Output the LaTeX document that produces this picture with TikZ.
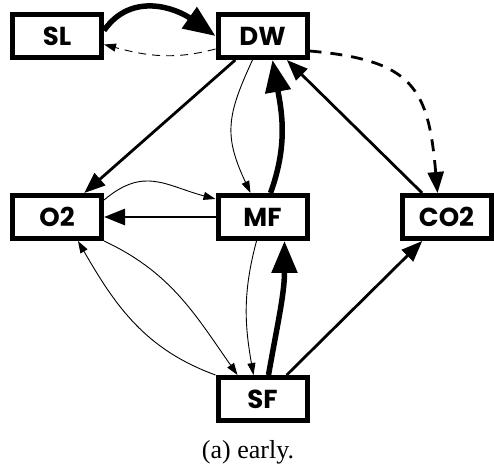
\documentclass[tikz,border=0pt]{standalone}
\usepackage{fontspec}
\setmainfont{Liberation Serif}
\newfontfamily\boxfont{Poppins}
\usetikzlibrary{arrows.meta,calc,positioning}

\begin{document}
\begin{tikzpicture}[x=1pt, y=1pt, line cap=butt, line join=miter,
		box/.style={draw, line width=5pt, minimum width=89pt, minimum height=43pt,
			inner sep=0pt, font=\boxfont\bfseries\fontsize{26}{28}\selectfont},
		thin/.style={line width=0.9pt, -{Triangle[length=12pt,width=8pt]}},
		mid/.style={line width=2.8pt, -{Triangle[length=21pt,width=16pt]}},
		heavy/.style={line width=5.5pt, -{Triangle[length=32pt,width=25pt]}}]
	
	% page frame
	\useasboundingbox (0,0) rectangle (494,465);
	
	% the six boxes
	\node[box] (sl)  at (57,428.5)  {SL};
	\node[box] (dw)  at (262.5,429) {DW};
	\node[box] (o2)  at (57,248)    {O2};
	\node[box] (mf)  at (262.5,248) {MF};
	\node[box] (co2) at (446.5,248) {CO2};
	\node[box] (sf)  at (262.5,66)  {SF};
	
	% top row
	\draw[heavy] ([yshift=6]sl.east) to[out=55, in=145, looseness=1.1] (dw.west);
	\draw[thin, dashed, dash pattern=on 8pt off 6pt]
	([yshift=-13]dw.west) to[out=195, in=345] ([yshift=-8]sl.east);
	\draw[mid, dash pattern=on 12pt off 9pt]
	([yshift=-15]dw.east) to[out=-5, in=95, looseness=1.4] ([xshift=-9]co2.north);
	
	% DW and the middle row
	\draw[mid] (dw) -- (o2);
	\draw[thin] ([xshift=-10]dw.south) to[out=-115, in=115, looseness=1.2] ([xshift=-12]mf.north);
	\draw[heavy] ([xshift=8]mf.north) to[out=70, in=-80] ([xshift=10]dw.south);
	\draw[mid] (co2) -- (dw);
	
	% O2 <-> MF
	\draw[thin] ([yshift=17]o2.east) to[out=40, in=165, looseness=1.2] ([yshift=18]mf.west);
	\draw[mid] (mf) -- (o2);
	
	% SF and the middle row
	\draw[thin] (sf.north west) to[out=160, in=-60] ([xshift=21]o2.south);
	\draw[thin] (o2.south east) to[out=-25, in=125] ([xshift=-25]sf.north);
	\draw[thin] ([xshift=-6]mf.south) to[out=-105, in=100] ([xshift=-9]sf.north);
	\draw[heavy] ([xshift=6]sf.north) to[out=80, in=-90] ([xshift=22]mf.south);
	\draw[mid] (sf) -- (co2);
	
	% caption
	\node[font=\fontsize{26}{30}\selectfont] (cap) at (248,13) {(a) early.};
	
\end{tikzpicture}
\end{document}
